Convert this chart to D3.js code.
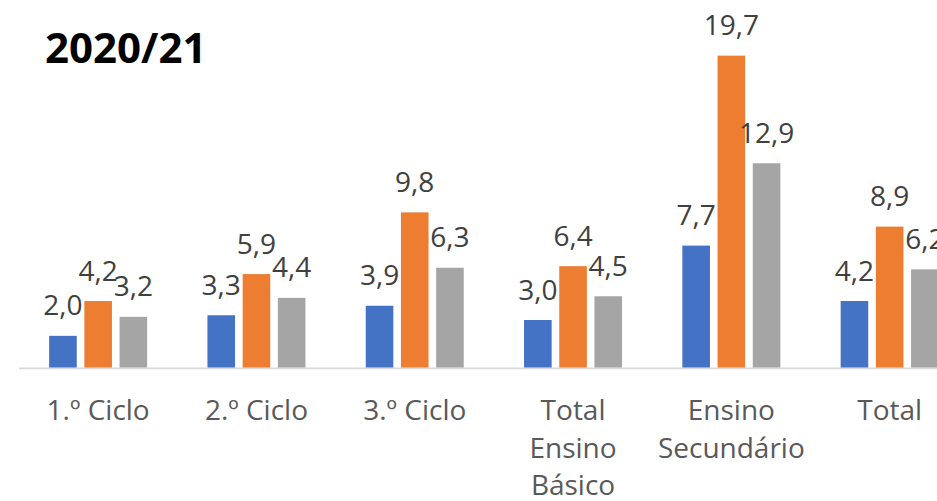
<!DOCTYPE html>
<html><head><meta charset="utf-8">
<script src="https://cdn.jsdelivr.net/npm/d3@7"></script>
<style>
html,body{margin:0;padding:0;background:#fff;}
svg{display:block;}
</style></head>
<body>
<svg id="chart" width="937" height="501"></svg>
<script>
const title = "2020/21";
const categories = ["1.º Ciclo", "2.º Ciclo", "3.º Ciclo", "Total Ensino Básico", "Ensino Secundário", "Total"];
const seriesNames = ["A", "B", "C"];
const seriesA = [2.0, 3.3, 3.9, 3.0, 7.7, 4.2];
const seriesB = [4.2, 5.9, 9.8, 6.4, 19.7, 8.9];
const seriesC = [3.2, 4.4, 6.3, 4.5, 12.9, 6.2];
const colors = ["#4472C4", "#ED7D31", "#A5A5A5"];

const seriesValues = [seriesA, seriesB, seriesC];
const svg = d3.select("#chart");
const fontFam = "'Open Sans', 'Noto Sans', sans-serif";

const baseY = 367.5;
const x = d3.scaleBand().domain(categories).range([19, 19 + 6 * 158.3]).padding(0);
const y = d3.scaleLinear().domain([0, 20]).range([baseY, baseY - 20 * 15.83]);
const groupW = 98;
const xs = d3.scaleBand().domain(seriesNames).range([0, groupW]).paddingInner(0.216).paddingOuter(0);

// axis line
svg.append("line")
  .attr("x1", 19).attr("x2", 937)
  .attr("y1", baseY + 0.9).attr("y2", baseY + 0.9)
  .attr("stroke", "#d9d9d9").attr("stroke-width", 1.8);

const data = [];
categories.forEach((c, i) => {
  seriesNames.forEach((s, j) => data.push({cat: c, s, j, v: seriesValues[j][i]}));
});

const g = svg.append("g");
g.selectAll("rect").data(data).join("rect")
  .attr("x", d => x(d.cat) + x.bandwidth() / 2 - groupW / 2 + xs(d.s))
  .attr("width", xs.bandwidth())
  .attr("y", d => y(d.v))
  .attr("height", d => y(0) - y(d.v))
  .attr("fill", d => colors[d.j]);

const fmt = v => v.toFixed(1).replace(".", ",");
g.selectAll("text.lbl").data(data).join("text")
  .attr("class", "lbl")
  .attr("x", d => x(d.cat) + x.bandwidth() / 2 - groupW / 2 + xs(d.s) + xs.bandwidth() / 2)
  .attr("y", d => y(d.v) - 20.5)
  .attr("text-anchor", "middle")
  .attr("font-family", fontFam)
  .attr("font-size", 28)
  .attr("fill", "#404040")
  .text(d => fmt(d.v));

// category labels with wrapping
const catG = svg.append("g");
categories.forEach(c => {
  const cx = x(c) + x.bandwidth() / 2;
  const t = catG.append("text")
    .attr("x", cx).attr("y", 420)
    .attr("text-anchor", "middle")
    .attr("font-family", fontFam)
    .attr("font-size", 28)
    .attr("fill", "#595959");
  const words = c.split(" ");
  let line = [];
  let lineNo = 0;
  let tspan = t.append("tspan").attr("x", cx).attr("dy", 0);
  words.forEach(w => {
    line.push(w);
    tspan.text(line.join(" "));
    if (tspan.node().getComputedTextLength() > 150 && line.length > 1) {
      line.pop();
      tspan.text(line.join(" "));
      line = [w];
      lineNo++;
      tspan = t.append("tspan").attr("x", cx).attr("dy", 37.5).text(w);
    }
  });
});

svg.append("text")
  .attr("x", 45).attr("y", 63)
  .attr("font-family", fontFam)
  .attr("font-size", 42)
  .attr("font-weight", "bold")
  .attr("fill", "#000")
  .text(title);
</script>
</body></html>
